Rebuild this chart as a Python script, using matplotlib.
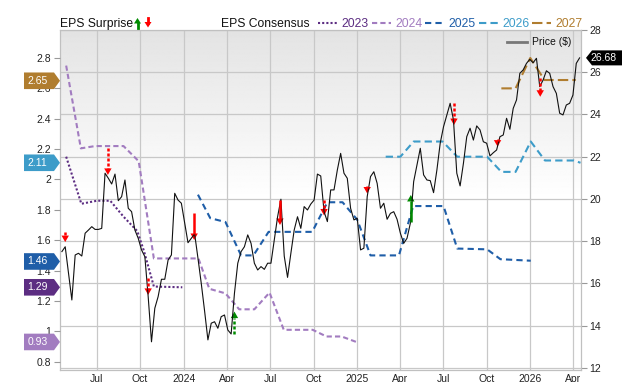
import numpy as np
import pandas as pd
import matplotlib
matplotlib.use('Agg')
import matplotlib.pyplot as plt
import matplotlib.dates as mdates
import matplotlib.transforms as mtrans
from matplotlib.patches import Polygon
from matplotlib.lines import Line2D
from matplotlib.ticker import FuncFormatter

plt.rcParams['font.family'] = ['Liberation Sans', 'DejaVu Sans']

# precio semanal
price_start = '2023-04-19'
price = [17.51, 17.74, 16.5, 15.22, 17.35, 17.43, 17.30, 18.38, 18.53, 18.69,
         18.56, 18.56, 18.61, 21.22, 20.98, 20.71, 21.18, 19.92, 20.11, 20.90,
         19.56, 19.40, 18.53, 18.14, 17.59, 17.27, 15.38, 13.24, 14.83, 15.38,
         16.20, 16.20, 17.11, 17.35, 20.27, 19.95, 19.80, 18.85, 17.93, 18.14,
         18.35, 17.2, 16.0, 14.7, 13.33, 14.12, 14.19, 13.88, 14.43, 14.51,
         13.80, 13.61, 15.54, 16.96, 17.51, 17.74, 18.30, 17.90, 16.96, 16.64,
         16.80, 16.67, 16.96, 16.96, 18.06, 19.16, 19.99, 17.3, 16.29, 17.43,
         18.53, 19.16, 18.61, 19.64, 19.48, 19.76, 19.95, 21.18, 21.09, 19.4,
         18.93, 20.43, 20.43, 21.37, 22.16, 21.22, 20.98, 19.56, 19.01, 19.09,
         17.59, 17.67, 20.11, 21.06, 21.29, 20.74, 19.56, 19.80, 19.04, 19.32,
         19.40, 19.04, 18.38, 17.90, 18.14, 18.85, 20.82, 21.61, 22.40, 21.14,
         20.90, 20.87, 20.30, 21.37, 22.64, 23.42, 23.98, 24.53, 23.74, 21.22,
         20.62, 21.69, 22.95, 23.35, 22.79, 23.46, 23.27, 22.71, 22.64, 22.04,
         22.19, 22.32, 22.95, 23.03, 23.82, 23.30, 24.29, 24.69, 25.95, 26.11,
         26.42, 26.61, 26.45, 26.66, 25.32, 25.63, 26.07, 25.95, 25.32, 25.00,
         24.06, 23.98, 24.45, 24.53, 24.92, 26.42, 26.68]

# consenso EPS por año fiscal
eps_2023_dates = ['2023-04-28', '2023-05-30', '2023-07-02', '2023-07-30', '2023-08-27',
                  '2023-09-25', '2023-10-09', '2023-10-30', '2023-12-29']
eps_2023 = [2.15, 1.84, 1.86, 1.86, 1.755, 1.66, 1.53, 1.295, 1.29]

eps_2024_dates = ['2023-04-28', '2023-05-29', '2023-06-28', '2023-08-27', '2023-09-28',
                  '2023-10-30', '2024-02-01', '2024-02-24', '2024-03-29', '2024-04-27',
                  '2024-05-29', '2024-06-30', '2024-07-30', '2024-09-29', '2024-10-28',
                  '2024-11-29', '2024-12-30']
eps_2024 = [2.75, 2.205, 2.22, 2.22, 2.12, 1.48, 1.48, 1.28, 1.25, 1.145,
            1.145, 1.255, 1.01, 1.01, 0.966, 0.966, 0.93]

eps_2025_dates = ['2024-01-31', '2024-02-26', '2024-03-29', '2024-05-01', '2024-05-27',
                  '2024-06-28', '2024-09-28', '2024-10-30', '2024-12-01', '2025-01-01',
                  '2025-01-29', '2025-03-30', '2025-04-29', '2025-07-02', '2025-07-31',
                  '2025-10-02', '2025-10-30', '2026-01-02']
eps_2025 = [1.90, 1.745, 1.72, 1.50, 1.50, 1.655, 1.655, 1.85, 1.85, 1.735,
            1.50, 1.50, 1.825, 1.825, 1.545, 1.54, 1.475, 1.465]

eps_2026_dates = ['2025-03-02', '2025-04-02', '2025-04-30', '2025-06-30', '2025-07-31',
                  '2025-10-02', '2025-11-01', '2025-12-01', '2026-01-02', '2026-02-01',
                  '2026-04-03', '2026-04-17']
eps_2026 = [2.15, 2.15, 2.25, 2.25, 2.15, 2.15, 2.05, 2.05, 2.25, 2.125, 2.125, 2.11]

eps_2027_dates = ['2025-11-01', '2025-12-01', '2026-01-01', '2026-01-31', '2026-04-07']
eps_2027 = [2.60, 2.60, 2.80, 2.655, 2.655]

# sorpresas EPS (flechas, en escala de precio)
surp_dates = ['2023-04-26', '2023-07-25', '2023-10-18', '2024-01-23', '2024-04-17',
              '2024-07-22', '2024-10-23', '2025-01-22', '2025-04-24', '2025-07-24',
              '2025-10-24', '2026-01-22']
surp_from = [18.45, 22.40, 16.26, 19.35, 13.61, 19.95, 19.95, 20.62, 18.93, 24.53, 22.82, 25.71]
surp_to = [17.96, 21.14, 15.46, 18.06, 14.67, 18.77, 19.22, 20.26, 20.19, 23.50, 22.48, 24.84]
surp_dotted = [True, True, True, False, True, False, True, True, False, True, True, True]

years = ['2023', '2024', '2025', '2026', '2027']
colors = ['#5c2d82', '#a27cc0', '#1f5ea8', '#3d9cc9', '#b07d2f']
styles = [(0, (1, 1)), (0, (2.5, 1.5)), (0, (3, 2)), (0, (3.5, 2)), (0, (5, 2))]
badge_txt = ['1.29', '0.93', '1.46', '2.11', '2.65']
badge_val = [1.29, 0.93, 1.46, 2.11, 2.65]
last_price = 26.68

xticks = ['2023-07-01', '2023-10-01', '2024-01-01', '2024-04-01', '2024-07-01', '2024-10-01',
          '2025-01-01', '2025-04-01', '2025-07-01', '2025-10-01', '2026-01-01', '2026-04-01']
xlabels = ['Jul', 'Oct', '2024', 'Apr', 'Jul', 'Oct', '2025', 'Apr', 'Jul', 'Oct', '2026', 'Apr']

W, H = 640, 382
fig = plt.figure(figsize=(W / 100, H / 100), dpi=100)
rect = [60 / W, 1 - 370 / H, 521 / W, 340 / H]
ax_bg = fig.add_axes(rect)
ax_e = ax_bg.twinx()
ax_p = ax_bg.twinx()
ax_bg.set_zorder(0)
ax_e.set_zorder(1)
ax_p.set_zorder(2)

xmin, xmax = pd.Timestamp('2023-04-15'), pd.Timestamp('2026-04-18')
ax_bg.set_xlim(xmin, xmax)
ax_bg.set_ylim(11.905, 28)
ax_p.set_ylim(11.905, 28)
ax_e.set_ylim(0.7453, 2.9844)

# fondo degradado
grad = np.ones((200, 2))
f = np.linspace(0, 1, 200)
grad[:, :] = np.where(f > 0.5, 1 - (f - 0.5) / 0.5 * 0.11, 1.0)[:, None]
ax_bg.imshow(grad, extent=(0, 1, 0, 1), transform=ax_bg.transAxes, origin='lower',
             cmap='gray', vmin=0, vmax=1, aspect='auto', zorder=0, interpolation='bilinear')

ax_bg.set_xticks([pd.Timestamp(d) for d in xticks])
ax_bg.set_xticklabels(xlabels)
ax_bg.set_yticks(np.arange(12, 29, 2))
ax_bg.grid(True, color='#c8c8c8', lw=0.9)
ax_bg.set_axisbelow(True)
ax_bg.yaxis.tick_right()
ax_bg.tick_params(axis='x', length=0, pad=3, labelsize=7.5, labelcolor='#222222')
ax_bg.tick_params(axis='y', length=4.5, pad=1.5, width=0.8, color='#999999',
                  labelsize=7.5, labelcolor='#222222')
for s in ax_bg.spines.values():
    s.set_color('#c0c0c0')
    s.set_linewidth(0.9)

ax_e.yaxis.tick_left()
ax_e.set_yticks(np.arange(0.8, 2.81, 0.2))
ax_e.yaxis.set_major_formatter(FuncFormatter(lambda v, p: '%g' % round(v, 1)))
ax_e.tick_params(axis='y', length=4.5, pad=2, width=0.8, color='#999999',
                 labelsize=7.5, labelcolor='#222222')
ax_p.yaxis.set_visible(False)
for a in (ax_e, ax_p):
    for s in a.spines.values():
        s.set_visible(False)

eps_dates = [eps_2023_dates, eps_2024_dates, eps_2025_dates, eps_2026_dates, eps_2027_dates]
eps_vals = [eps_2023, eps_2024, eps_2025, eps_2026, eps_2027]
for d, v, c, ls in zip(eps_dates, eps_vals, colors, styles):
    ax_e.plot(pd.to_datetime(d), v, color=c, lw=1.5, ls=ls)

pdates = pd.date_range(price_start, periods=len(price), freq='7D')
ax_p.plot(pdates, price, color='#111111', lw=0.8)

# flechas de sorpresa
for d, y0, y1, dot in zip(surp_dates, surp_from, surp_to, surp_dotted):
    up = y1 > y0
    c = '#008a00' if up else '#ff0000'
    ts = pd.Timestamp(d)
    s = 1 if up else -1
    yb = y1 - s * 0.28
    if (yb - y0) * s > 0:
        ax_p.plot([ts, ts], [y0, yb], color=c, lw=1.8,
                  ls=(0, (1.2, 0.8)) if dot else '-', solid_capstyle='butt')
    tr = fig.dpi_scale_trans + mtrans.ScaledTranslation(mdates.date2num(ts), y1, ax_p.transData)
    ax_p.add_patch(Polygon([(0, 0), (-0.037, -s * 0.065), (0.037, -s * 0.065)],
                           closed=True, transform=tr, color=c, lw=0))

# etiquetas de la izquierda
base_l = mtrans.blended_transform_factory(ax_e.transAxes, ax_e.transData)
for v, t, c in zip(badge_val, badge_txt, colors):
    tr = fig.dpi_scale_trans + mtrans.ScaledTranslation(0, v, base_l)
    ax_e.add_patch(Polygon([(0, 0), (-0.06, 0.083), (-0.36, 0.083), (-0.36, -0.083), (-0.06, -0.083)],
                           closed=True, transform=tr, color=c, lw=0, clip_on=False, zorder=10))
    ax_e.text(-0.225, 0, t, transform=tr, color='white', fontsize=7.5, ha='center',
              va='center', clip_on=False, zorder=11)

# etiqueta del precio
base_r = mtrans.blended_transform_factory(ax_p.transAxes, ax_p.transData)
tr = fig.dpi_scale_trans + mtrans.ScaledTranslation(1, last_price, base_r)
ax_p.add_patch(Polygon([(0.05, 0), (0.11, 0.075), (0.41, 0.075), (0.41, -0.075), (0.11, -0.075)],
                       closed=True, transform=tr, color='black', lw=0, clip_on=False, zorder=10))
ax_p.text(0.225, 0, '%.2f' % last_price, transform=tr, color='white', fontsize=7.5,
          ha='center', va='center', clip_on=False, zorder=11)


def fx(x):
    return x / W


def fy(y):
    return 1 - y / H


# leyenda superior
fig.text(fx(60), fy(27), 'EPS Surprise', fontsize=8.7, color='#111111', va='baseline')
fig.add_artist(Line2D([fx(137.5), fx(137.5)], [fy(23), fy(27.5)], color='#008a00', lw=2))
fig.add_artist(Polygon([(fx(137.5), fy(18)), (fx(134), fy(23.5)), (fx(141), fy(23.5))],
                       closed=True, transform=fig.transFigure, color='#008a00', lw=0))
fig.add_artist(Line2D([fx(148), fx(148)], [fy(18), fy(22.5)], color='#ff0000', lw=2))
fig.add_artist(Polygon([(fx(148), fy(27.5)), (fx(144.5), fy(22)), (fx(151.5), fy(22))],
                       closed=True, transform=fig.transFigure, color='#ff0000', lw=0))
fig.text(fx(221), fy(27), 'EPS Consensus', fontsize=8.7, color='#111111', va='baseline')
sample_x = [318, 372, 425, 479, 532]
for x0, yr, c, ls in zip(sample_x, years, colors, styles):
    fig.add_artist(Line2D([fx(x0), fx(x0 + 19)], [fy(23), fy(23)], color=c, lw=1.5, ls=ls))
    fig.text(fx(x0 + 23), fy(27), yr, fontsize=8.7, color=c, va='baseline')

# leyenda del precio
fig.add_artist(Line2D([fx(507), fx(527)], [fy(42), fy(42)], color='#777777', lw=2))
fig.text(fx(532), fy(42), 'Price ($)', fontsize=7.5, color='#111111', va='center')

fig.savefig('out.png', dpi=100)
